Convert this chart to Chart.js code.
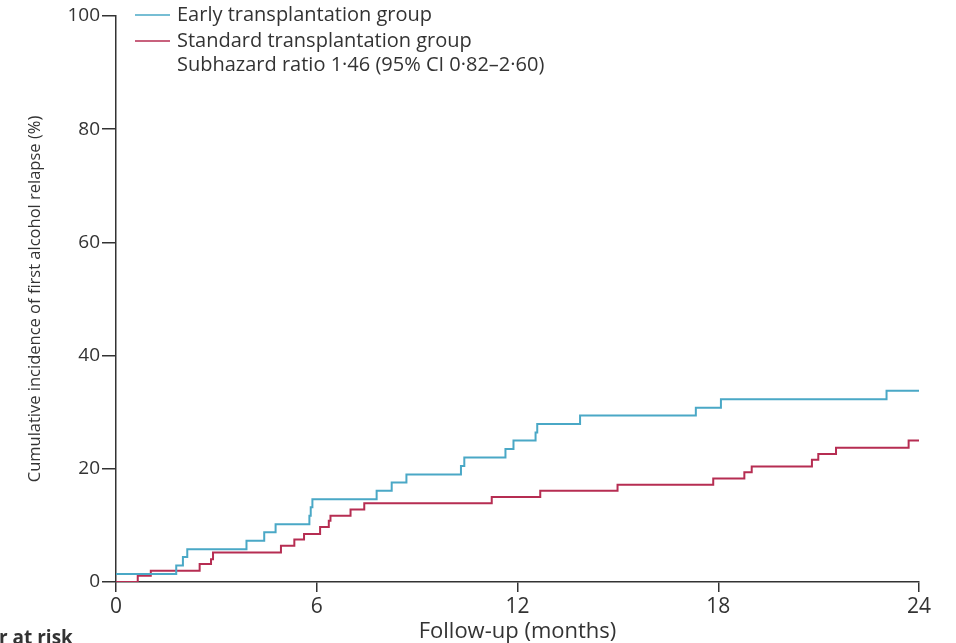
<!DOCTYPE html>
<html>
<head>
<meta charset="utf-8">
<script src="https://cdn.jsdelivr.net/npm/chart.js@4.4.1/dist/chart.umd.min.js"></script>
<style>
  html, body { margin: 0; padding: 0; background: #fff; }
  #wrap { width: 956px; height: 643px; position: relative; }
</style>
</head>
<body>
<div id="wrap"><canvas id="relapseChart" width="956" height="643"></canvas></div>
<script>
// Cumulative incidence (%) steps
const earlyMonths = [0, 1.8, 2.0, 2.13, 3.9, 4.43, 4.77, 5.78, 5.82, 5.87, 7.79, 8.24, 8.68, 10.31, 10.41, 11.64, 11.88, 12.54, 12.59, 13.87, 17.33, 18.08, 23.03, 24];
const earlyIncidence = [1.4, 2.9, 4.4, 5.8, 7.3, 8.8, 10.2, 11.7, 13.2, 14.6, 16.1, 17.6, 19.0, 20.5, 22.0, 23.5, 25.0, 26.4, 27.9, 29.4, 30.8, 32.3, 33.8, 33.8];
const standardMonths = [0, 0.65, 1.04, 2.5, 2.84, 2.9, 4.93, 5.33, 5.62, 6.1, 6.36, 6.41, 7.01, 7.42, 11.23, 12.68, 14.99, 17.85, 18.78, 19.0, 20.8, 20.99, 21.52, 23.69, 24];
const standardIncidence = [0, 1.1, 2.0, 3.2, 4.0, 5.2, 6.4, 7.5, 8.5, 9.7, 10.8, 11.7, 12.8, 13.9, 15.0, 16.1, 17.2, 18.3, 19.4, 20.4, 21.6, 22.6, 23.7, 25.0, 25.0];
const xTicks = [0, 6, 12, 18, 24];
const yTicks = [0, 20, 40, 60, 80, 100];

const legendLabels = ['Early transplantation group', 'Standard transplantation group'];
const ratioNote = 'Subhazard ratio 1\u00b746 (95% CI 0\u00b782\u20132\u00b760)';

const blue = '#4aa8c6';
const red = '#b62d52';
const ink = '#333333';

function toPoints(xs, ys) {
    return xs.map((x, i) => ({ x: x, y: ys[i] }));
}

// draws the legend block and the cut-off "at risk" heading
const notesPlugin = {
    id: 'notes',
    afterDraw(chart) {
        const ctx = chart.ctx;
        ctx.save();
        ctx.font = '20px "Open Sans"';
        ctx.textBaseline = 'middle';
        ctx.fillStyle = ink;
        const rows = [15, 41, 65];
        [blue, red].forEach((c, i) => {
            ctx.strokeStyle = c;
            ctx.lineWidth = 1.5;
            ctx.beginPath();
            ctx.moveTo(135, rows[i]);
            ctx.lineTo(170, rows[i]);
            ctx.stroke();
            ctx.fillText(legendLabels[i], 177, rows[i]);
        });
        ctx.fillText(ratioNote, 177, rows[2]);
        ctx.font = 'bold 19px "Open Sans"';
        ctx.textBaseline = 'alphabetic';
        ctx.fillText('r at risk', -1, 644);
        ctx.restore();
    }
};

const ctx = document.getElementById('relapseChart').getContext('2d');
new Chart(ctx, {
    type: 'scatter',
    data: {
        datasets: [
            {
                label: legendLabels[0],
                data: toPoints(earlyMonths, earlyIncidence),
                showLine: true,
                stepped: 'before',
                borderColor: blue,
                borderWidth: 2,
                pointRadius: 0,
                fill: false
            },
            {
                label: legendLabels[1],
                data: toPoints(standardMonths, standardIncidence),
                showLine: true,
                stepped: 'before',
                borderColor: red,
                borderWidth: 2,
                pointRadius: 0,
                fill: false
            }
        ]
    },
    options: {
        responsive: false,
        animation: false,
        layout: { padding: { top: 16, right: 37, bottom: 0, left: 0 } },
        plugins: {
            legend: { display: false },
            tooltip: { enabled: false }
        },
        scales: {
            x: {
                type: 'linear',
                min: 0,
                max: 24,
                afterBuildTicks: s => { s.ticks = xTicks.map(v => ({ value: v })); },
                afterFit: s => { s.height = 61; },
                grid: { drawOnChartArea: false, drawTicks: true, tickLength: 10, color: ink, lineWidth: 1.5 },
                border: { display: true, color: ink, width: 1.5 },
                ticks: { color: ink, font: { family: 'Open Sans', size: 21 }, padding: 2 },
                title: { display: true, text: 'Follow-up (months)', color: ink, font: { family: 'Open Sans', size: 22 }, padding: { top: 0, bottom: -2 } }
            },
            y: {
                min: 0,
                max: 100,
                afterBuildTicks: s => { s.ticks = yTicks.map(v => ({ value: v })); },
                afterFit: s => { s.width = 116; },
                grid: { drawOnChartArea: false, drawTicks: true, tickLength: 14, color: ink, lineWidth: 1.5 },
                border: { display: true, color: ink, width: 1.5 },
                ticks: { color: ink, font: { family: 'Open Sans', size: 19 }, padding: 2 },
                title: { display: true, text: 'Cumulative incidence of first alcohol relapse (%)', color: ink, font: { family: 'Open Sans', size: 16.5 }, padding: { top: 25, bottom: 0 } }
            }
        }
    },
    plugins: [notesPlugin]
});
</script>
</body>
</html>
